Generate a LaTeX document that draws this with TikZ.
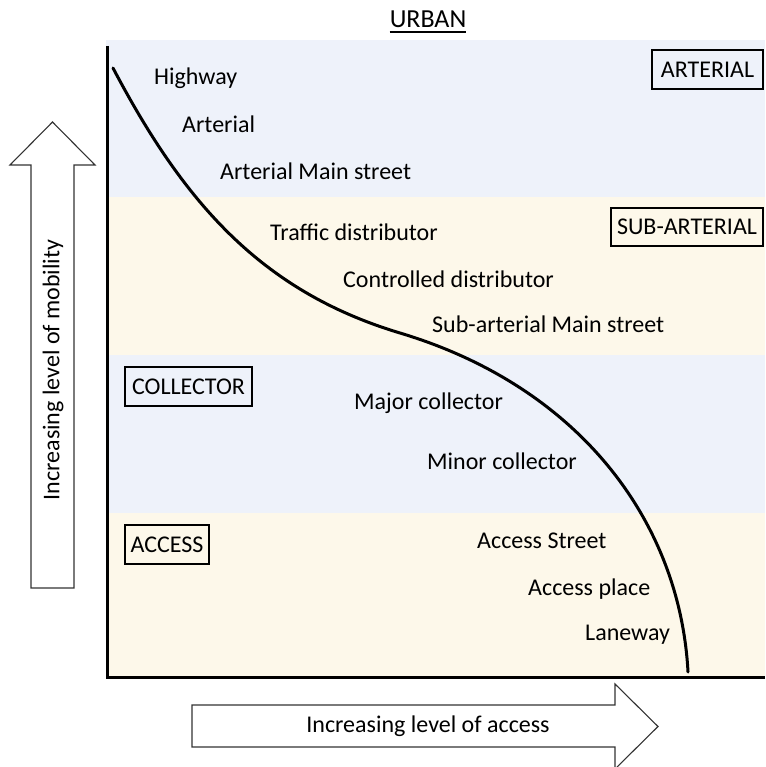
\documentclass[tikz,border=0pt]{standalone}
\usepackage{fontspec}
\setmainfont{Carlito}
\definecolor{bandblue}{HTML}{EEF2FA}
\definecolor{bandcream}{HTML}{FDF8EA}
\definecolor{arrowgray}{HTML}{333333}
\begin{document}
\begin{tikzpicture}[x=1pt,y=-1pt,
  lbl/.style={anchor=base west,inner sep=0pt,font=\fontsize{24}{28}\selectfont},
  catbox/.style={draw,line width=2.6pt,inner sep=0pt,font=\fontsize{24}{28}\selectfont},
  bigarrow/.style={draw=arrowgray,line width=1.1pt,fill=white,line join=miter}]
\useasboundingbox (0,0) rectangle (765,767);
\begin{scope}
\clip (0,0) rectangle (765,767);
% bands
\fill[bandblue] (106,40) rectangle (765,197);
\fill[bandcream] (106,197) rectangle (765,355);
\fill[bandblue] (106,355) rectangle (765,513);
\fill[bandcream] (106,513) rectangle (765,677);
% axes
\draw[line width=3pt] (107,46) -- (107,677) -- (765,677);
% curve
\draw[line width=3pt,line cap=round]
  (113,68) .. controls (183,201) and (260,291) .. (400,333)
  .. controls (580,387) and (680,522) .. (688,672);
% title
\node[anchor=base,inner sep=0pt,font=\fontsize{26}{30}\selectfont] (title) at (428,28) {URBAN};
\draw[line width=1.3pt] ([yshift=-4pt]title.base west) -- ([yshift=-4pt]title.base east);
% labels
\node[lbl] (l1) at (154,85) {Highway};
\node[lbl] (l2) at (182,133) {Arterial};
\node[lbl] (l3) at (220,180) {Arterial Main street};
\node[lbl] (l4) at (270,240) {Traffic distributor};
\node[lbl] (l5) at (343,287) {Controlled distributor};
\node[lbl] (l6) at (432,332) {Sub-arterial Main street};
\node[lbl] (l7) at (354,409) {Major collector};
\node[lbl] (l8) at (427,469) {Minor collector};
\node[lbl] (l9) at (477,548) {Access Street};
\node[lbl] (l10) at (528,595) {Access place};
\node[lbl] (l11) at (585,640) {Laneway};
% category boxes
\node[catbox,minimum width=111pt,minimum height=39pt] (b1) at (707.5,69.5) {ARTERIAL};
\node[catbox,minimum width=152pt,minimum height=38pt] (b2) at (687,227) {SUB-ARTERIAL};
\node[catbox,minimum width=127pt,minimum height=39pt] (b3) at (188.5,386.5) {COLLECTOR};
\node[catbox,minimum width=84pt,minimum height=39pt] (b4) at (167,544.5) {ACCESS};
% vertical arrow
\draw[bigarrow] (31,588) -- (31,165) -- (10,165) -- (52.5,122) -- (95,165) -- (74,165) -- (74,588) -- cycle;
\node[rotate=90,inner sep=0pt,font=\fontsize{24}{28}\selectfont] (va) at (53,370) {Increasing level of mobility};
% horizontal arrow
\draw[bigarrow] (192,705) -- (615,705) -- (615,684) -- (658,726.5) -- (615,769) -- (615,747) -- (192,747) -- cycle;
\node[inner sep=0pt,font=\fontsize{24}{28}\selectfont] (ha) at (428,726) {Increasing level of access};
\end{scope}
\end{tikzpicture}
\end{document}
